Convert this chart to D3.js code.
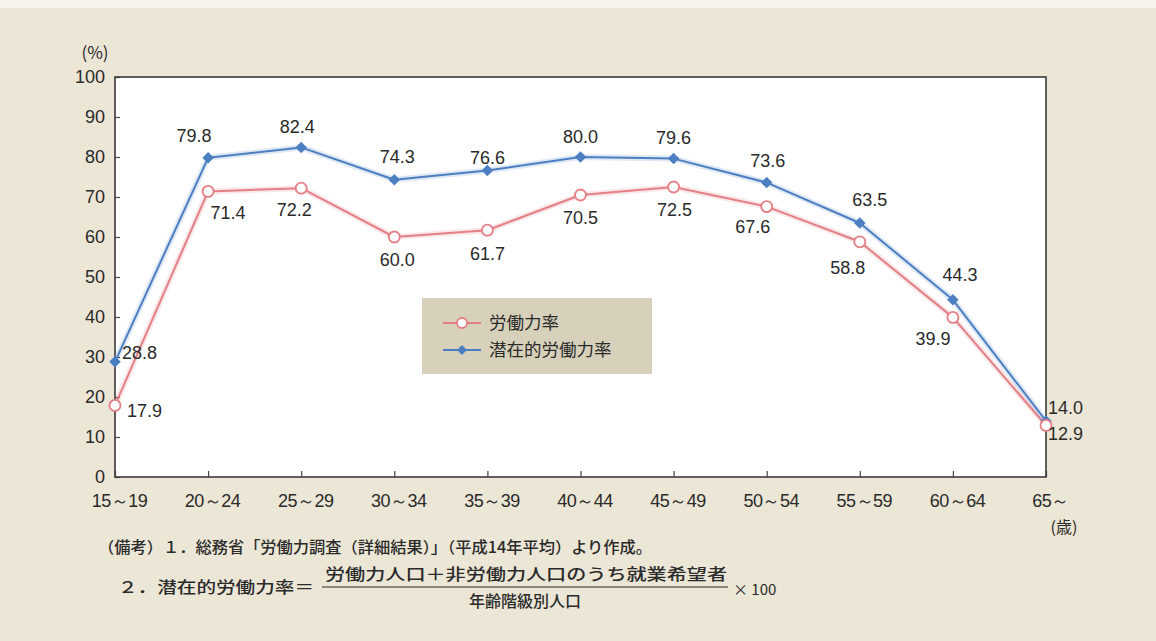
<!DOCTYPE html>
<html><head><meta charset="utf-8">
<script src="https://cdn.jsdelivr.net/npm/d3@7/dist/d3.min.js"></script>
<style>
html,body{margin:0;padding:0;background:#ece6d6;}
svg{display:block;}
</style></head>
<body>
<svg id="chart" width="1156" height="641"></svg>
<script>
// ---- data ----
const categories = ["15～19","20～24","25～29","30～34","35～39","40～44","45～49","50～54","55～59","60～64","65～"];
const laborForceRate = [17.9,71.4,72.2,60.0,61.7,70.5,72.5,67.6,58.8,39.9,12.9];
const potentialLaborForceRate = [28.8,79.8,82.4,74.3,76.6,80.0,79.6,73.6,63.5,44.3,14.0];
const yTickValues = [0,10,20,30,40,50,60,70,80,90,100];
const seriesNames = ["労働力率","潜在的労働力率"];
const yUnit = "(%)";
const xUnit = "(歳)";
const note1 = "（備考）１．総務省「労働力調査（詳細結果）」（平成14年平均）より作成。";
const note2Lead = "２．潜在的労働力率＝";
const note2Num = "労働力人口＋非労働力人口のうち就業希望者";
const note2Den = "年齢階級別人口";
const note2Tail = "× 100";

// ---- label placement (style config) ----
const blueOff = [[7,-9,"start"],[-14,-22,"middle"],[-4,-21,"middle"],[3,-23,"middle"],[0,-13,"middle"],[0,-20,"middle"],[0,-21,"middle"],[1,-22,"middle"],[10,-23,"middle"],[7,-25,"middle"],[2,-13,"start"]];
const redOff  = [[12,5,"start"],[20,21,"middle"],[-7,21,"middle"],[3,23,"middle"],[0,23,"middle"],[0,23,"middle"],[1,23,"middle"],[-14,20,"middle"],[-12,26,"middle"],[-20,21,"middle"],[2,8,"start"]];

const svg = d3.select("#chart");
const W = 1156, H = 641;
svg.append("rect").attr("x",0).attr("y",0).attr("width",W).attr("height",8).attr("fill","#f7f4ec");

const L = 115, R = 1046, T = 77, B = 477;
const x = d3.scalePoint().domain(categories).range([L, R]).padding(0);
const y = d3.scaleLinear().domain([0,100]).range([B, T]);

const numFont = "'Liberation Sans', Arial, sans-serif";
const cjkFont = "'Noto Sans CJK JP', sans-serif";
const textCol = "#2a2a2a";

// plot background
svg.append("rect").attr("x",L).attr("y",T).attr("width",R-L).attr("height",B-T).attr("fill","#ffffff");

// y axis
const gy = svg.append("g").attr("transform",`translate(${L},0)`)
  .call(d3.axisLeft(y).tickValues(yTickValues).tickSizeInner(-5).tickSizeOuter(0).tickPadding(10).tickFormat(d3.format("d")));
gy.select(".domain").remove();
gy.selectAll(".tick line").attr("stroke","#444").attr("stroke-width",1.2);
gy.selectAll(".tick text").attr("font-family",numFont).attr("font-size",18).attr("fill",textCol);

// x axis
const gx = svg.append("g").attr("transform",`translate(0,${B})`)
  .call(d3.axisBottom(x).tickSizeInner(-6).tickSizeOuter(0).tickPadding(17));
gx.select(".domain").remove();
gx.selectAll(".tick line").attr("stroke","#444").attr("stroke-width",1.2);
gx.selectAll(".tick text").attr("font-family",numFont).attr("font-size",18).attr("fill",textCol).attr("dx",4).attr("letter-spacing",-0.5);

// frame
svg.append("rect").attr("x",L).attr("y",T).attr("width",R-L).attr("height",B-T)
  .attr("fill","none").attr("stroke","#3a3a3a").attr("stroke-width",1.6);

// units
svg.append("text").attr("x",95).attr("y",53).attr("dy","0.35em").attr("text-anchor","middle")
  .attr("font-family",cjkFont).attr("font-size",17).attr("fill",textCol).text(yUnit);
svg.append("text").attr("x",1064).attr("y",527).attr("dy","0.35em").attr("text-anchor","middle")
  .attr("font-family",cjkFont).attr("font-size",16).attr("fill",textCol).text(xUnit);

const redCol = "#e47f86", blueCol = "#4c7fc2";
const line = d3.line().x((d,i)=>x(categories[i])).y(d=>y(d));

function drawSeries(vals, col){
  svg.append("path").datum(vals).attr("d",line).attr("fill","none")
    .attr("stroke",col).attr("stroke-opacity",0.18).attr("stroke-width",6).attr("stroke-linejoin","round");
  svg.append("path").datum(vals).attr("d",line).attr("fill","none")
    .attr("stroke",col).attr("stroke-width",2).attr("stroke-linejoin","round");
}
drawSeries(laborForceRate, redCol);
drawSeries(potentialLaborForceRate, blueCol);

// markers
svg.selectAll(".mk-b").data(potentialLaborForceRate).enter().append("path")
  .attr("transform",(d,i)=>`translate(${x(categories[i])},${y(d)}) rotate(45)`)
  .attr("d",d3.symbol().type(d3.symbolSquare).size(66)).attr("fill",blueCol);
svg.selectAll(".mk-r").data(laborForceRate).enter().append("circle")
  .attr("cx",(d,i)=>x(categories[i])).attr("cy",d=>y(d)).attr("r",5.5)
  .attr("fill","#fff").attr("stroke",redCol).attr("stroke-width",1.8);

// value labels
function drawLabels(vals, offs){
  svg.selectAll(null).data(vals).enter().append("text")
    .attr("x",(d,i)=>x(categories[i])+offs[i][0])
    .attr("y",(d,i)=>y(d)+offs[i][1])
    .attr("dy","0.35em")
    .attr("text-anchor",(d,i)=>offs[i][2])
    .attr("font-family",numFont).attr("font-size",18).attr("fill",textCol)
    .text(d=>d.toFixed(1));
}
drawLabels(potentialLaborForceRate, blueOff);
drawLabels(laborForceRate, redOff);

// legend
const lg = svg.append("g");
lg.append("rect").attr("x",422).attr("y",298).attr("width",230).attr("height",76).attr("fill","#d7d1bb");
[[redCol,323],[blueCol,350]].forEach(([c,yy],k)=>{
  lg.append("line").attr("x1",443).attr("x2",481).attr("y1",yy).attr("y2",yy).attr("stroke",c).attr("stroke-width",2);
  if(k===0){
    lg.append("circle").attr("cx",462).attr("cy",yy).attr("r",5).attr("fill","#fff").attr("stroke",c).attr("stroke-width",1.8);
  } else {
    lg.append("path").attr("transform",`translate(462,${yy}) rotate(45)`).attr("d",d3.symbol().type(d3.symbolSquare).size(50)).attr("fill",c);
  }
  lg.append("text").attr("x",489).attr("y",yy).attr("dy","0.36em")
    .attr("font-family",cjkFont).attr("font-size",17.5).attr("fill",textCol).text(seriesNames[k]);
});

// notes
const noteFont = cjkFont;
function note(txt, xx, yy, len, fs, anchor){
  const t = svg.append("text").attr("x",xx).attr("y",yy).attr("dy","0.35em")
    .attr("font-family",noteFont).attr("font-size",fs).attr("font-weight",500).attr("fill",textCol)
    .attr("text-anchor",anchor||"start").text(txt);
  if(len) t.attr("textLength",len).attr("lengthAdjust","spacingAndGlyphs");
  return t;
}
note(note1, 98, 548, 554, 15.5);
note(note2Lead, 118, 588, 196, 15.5);
note(note2Num, 325, 575, 402, 15.5);
svg.append("line").attr("x1",322).attr("x2",728).attr("y1",587).attr("y2",587).attr("stroke",textCol).attr("stroke-width",1.2);
note(note2Den, 469, 602, 112, 15.5);
svg.append("text").attr("x",733).attr("y",590).attr("dy","0.35em")
  .attr("font-family",noteFont).attr("font-size",15).attr("fill",textCol).text(note2Tail);
</script>
</body></html>
